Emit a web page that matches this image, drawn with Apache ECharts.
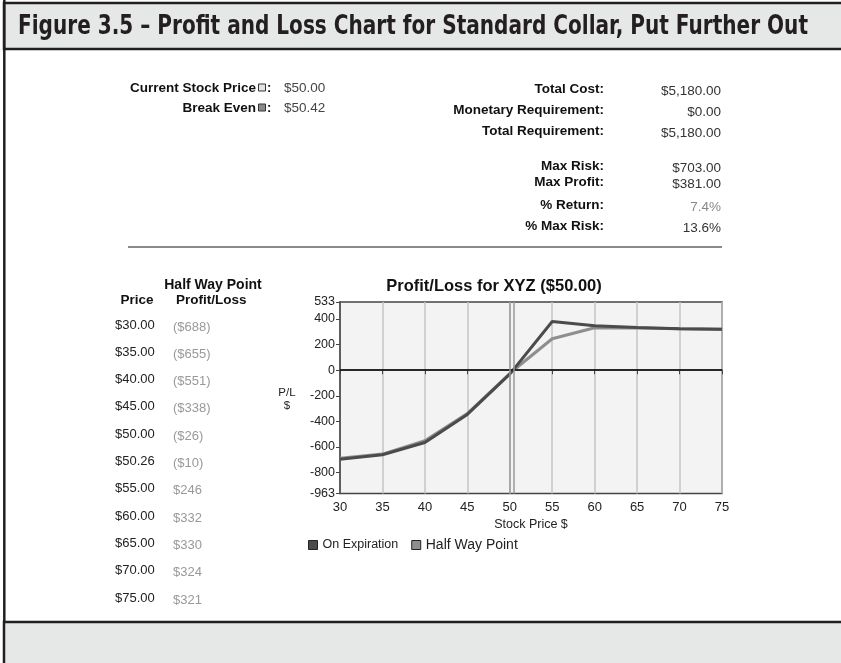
<!DOCTYPE html>
<html>
<head>
<meta charset="utf-8">
<script src="https://cdn.jsdelivr.net/npm/echarts@6/dist/echarts.min.js"></script>
<style>
  html, body { margin: 0; padding: 0; background: #fff; }
  #chart { width: 841px; height: 663px; }
</style>
</head>
<body>
<div id="chart"></div>
<script>
// ---- data ----
const tablePrices = [30, 35, 40, 45, 50, 50.26, 55, 60, 65, 70, 75];
const halfWayPL = [-688, -655, -551, -338, -26, -10, 246, 332, 330, 324, 321];
const expPrices = [30, 35, 40, 45, 50, 55, 60, 65, 70, 75];
const expirationPL = [-695, -660, -565, -345, -30, 381, 348, 333, 325, 320];
const yTickValues = [-963, -800, -600, -400, -200, 0, 200, 400, 533];
const priceMarks = [50, 50.42]; // current price, break even
const leftLabels = ["Current Stock Price", "Break Even"];
const leftValues = ["$50.00", "$50.42"];
const rightLabels = ["Total Cost:", "Monetary Requirement:", "Total Requirement:",
  "Max Risk:", "Max Profit:", "% Return:", "% Max Risk:"];
const rightValues = ["$5,180.00", "$0.00", "$5,180.00", "$703.00", "$381.00", "7.4%", "13.6%"];

const figTitle = "Figure 3.5 \u2013 Profit and Loss Chart for Standard Collar, Put Further Out";
const FONT = "'Liberation Sans', Arial, sans-serif";

function fmtPrice(p) { return "$" + p.toFixed(2); }
function fmtPL(v) { return v < 0 ? "($" + (-v) + ")" : "$" + v; }

// squeeze the header title to the width it takes in the figure
const titleFont = "bold 26px 'Liberation Sans Narrow', 'DejaVu Sans Condensed', " + FONT;
const ctx = document.createElement("canvas").getContext("2d");
ctx.font = titleFont;
const titleScale = 790 / ctx.measureText(figTitle).width;

function txt(x, y, text, font, fill, align) {
  return {
    type: "text", x: x, y: y, silent: true,
    style: { text: text, font: font, fill: fill || "#222",
      align: align || "left", textAlign: align || "left",
      verticalAlign: "middle", textVerticalAlign: "middle" }
  };
}

const g = [];
// frame + header band
g.push({ type: "rect", shape: { x: 4, y: 3, width: 845, height: 46 },
  style: { fill: "#e6e8e7", stroke: "#231f20", lineWidth: 2.5 } });
g.push({ type: "line", shape: { x1: 4.3, y1: 0, x2: 4.3, y2: 663 },
  style: { stroke: "#231f20", lineWidth: 2.5 } });
g.push({ type: "rect", shape: { x: 4, y: 622, width: 845, height: 50 },
  style: { fill: "#e6e8e7", stroke: "#231f20", lineWidth: 2.5 } });
const t = txt(18, 27, figTitle, titleFont, "#231f20");
t.scaleX = titleScale;
g.push(t);

// summary block, left
const leftY = [88, 108];
leftLabels.forEach(function (l, i) {
  g.push(txt(256, leftY[i], l, "bold 13.5px " + FONT, "#111", "right"));
  g.push({ type: "rect", shape: { x: 258.5, y: leftY[i] - 4, width: 7, height: 7 },
    style: { fill: i === 0 ? "#e4e4e4" : "#8a8a8a", stroke: "#333", lineWidth: 1 } });
  g.push(txt(267, leftY[i], ":", "bold 13px " + FONT, "#111"));
  g.push(txt(284, leftY[i], leftValues[i], "13.5px " + FONT, "#444"));
});

// summary block, right
const rightY = [89, 110, 131, 166, 182, 205, 226];
rightLabels.forEach(function (l, i) {
  g.push(txt(604, rightY[i], l, "bold 13.5px " + FONT, "#111", "right"));
  g.push(txt(721, rightY[i] + 2, rightValues[i], "13.5px " + FONT, i === 5 ? "#888" : "#333", "right"));
});
g.push({ type: "line", shape: { x1: 128, y1: 247, x2: 722, y2: 247 },
  style: { stroke: "#8a8a8a", lineWidth: 2 } });

// half way point table
g.push(txt(213, 285, "Half Way Point", "bold 14px " + FONT, "#111", "center"));
g.push(txt(137, 300, "Price", "bold 13.5px " + FONT, "#111", "center"));
g.push(txt(176, 300, "Profit/Loss", "bold 13.5px " + FONT, "#111"));
tablePrices.forEach(function (p, i) {
  const y = 325 + i * 27.3;
  g.push(txt(115, y, fmtPrice(p), "13px " + FONT, "#222"));
  g.push(txt(173, y + 2, fmtPL(halfWayPL[i]), "13px " + FONT, "#999"));
});

// chart title and y axis caption
g.push(txt(494, 286, "Profit/Loss for XYZ ($50.00)", "bold 16.5px " + FONT, "#111", "center"));
g.push(txt(287, 393, "P/L", "11.5px " + FONT, "#222", "center"));
g.push(txt(287, 406, "$", "11.5px " + FONT, "#222", "center"));

const chart = echarts.init(document.getElementById("chart"));
chart.setOption({
  animation: false,
  backgroundColor: "#fff",
  graphic: { elements: g },
  grid: { left: 340, top: 302, width: 382, height: 191.5, show: true,
    backgroundColor: "#f3f3f3", borderColor: "#444", borderWidth: 1.5 },
  legend: {
    left: 303, top: 533, itemWidth: 9, itemHeight: 9, itemGap: 13, icon: "rect",
    itemStyle: { borderColor: "#222", borderWidth: 1 },
    textStyle: { color: "#222", fontFamily: FONT },
    data: [
      { name: "On Expiration", textStyle: { fontSize: 12.5 } },
      { name: "Half Way Point", textStyle: { fontSize: 14 } }
    ]
  },
  xAxis: {
    type: "value", min: 30, max: 75, interval: 5,
    name: "Stock Price $", nameLocation: "middle", nameGap: 25,
    nameTextStyle: { color: "#222", fontSize: 12.5, fontFamily: FONT },
    axisLine: { lineStyle: { color: "#444", width: 1.5 } },
    axisTick: { length: 4, lineStyle: { color: "#444" } },
    axisLabel: { color: "#222", fontSize: 13, fontFamily: FONT, margin: 7 },
    splitLine: { show: true, lineStyle: { color: "#c4c4c4", width: 1.5 } }
  },
  yAxis: {
    type: "value", min: -963, max: 533,
    axisLine: { show: true, lineStyle: { color: "#444", width: 1.5 } },
    axisTick: { show: true, length: 4, customValues: yTickValues, lineStyle: { color: "#444" } },
    axisLabel: { customValues: yTickValues, color: "#222", fontSize: 12.5, fontFamily: FONT, margin: 5 },
    splitLine: { show: false }
  },
  series: [
    {
      name: "On Expiration", type: "line", z: 4, symbol: "none",
      data: expPrices.map(function (p, i) { return [p, expirationPL[i]]; }),
      lineStyle: { color: "#4b4b4b", width: 3 }, itemStyle: { color: "#4b4b4b" }
    },
    {
      name: "Half Way Point", type: "line", z: 3, symbol: "none",
      data: tablePrices.map(function (p, i) { return [p, halfWayPL[i]]; }),
      lineStyle: { color: "#8e8e8e", width: 3 }, itemStyle: { color: "#8e8e8e" },
      markLine: {
        silent: true, symbol: "none", label: { show: false },
        data: [{ yAxis: 0, lineStyle: { color: "#111", width: 1.5, type: "solid" } }].concat(
          priceMarks.map(function (p) {
            return { xAxis: p, lineStyle: { color: "#9a9a9a", width: 1.5, type: "solid" } };
          }))
      }
    }
  ]
});
</script>
</body>
</html>
